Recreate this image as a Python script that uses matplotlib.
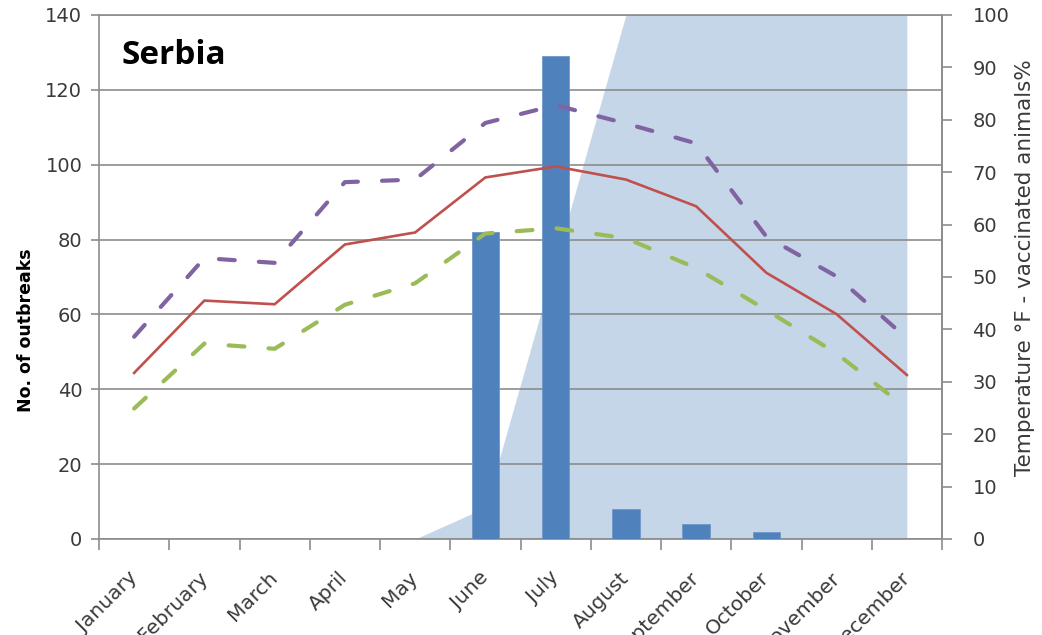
import matplotlib
matplotlib.use("Agg")
import matplotlib.pyplot as plt
import numpy as np

months = ['January', 'February', 'March', 'April', 'May', 'June', 'July',
          'August', 'September', 'October', 'November', 'December']
outbreaks = [0, 0, 0, 0, 0, 82, 129, 8, 4, 2, 0, 0]
temp_avg = [31.7, 45.5, 44.8, 56.2, 58.5, 69.0, 71.1, 68.6, 63.5, 50.8, 42.9, 31.3]
temp_max = [38.6, 53.6, 52.7, 68.1, 68.6, 79.4, 82.8, 79.3, 75.5, 57.7, 50.1, 38.3]
temp_min = [24.9, 37.3, 36.3, 44.7, 48.8, 58.3, 59.3, 57.4, 51.7, 43.7, 35.4, 24.9]
vaccinated = [0, 0, 0, 0, 0, 6, 53, 100, 100, 100, 100, 100]

BLUE = '#4F81BD'
RED = '#C0504D'
PURPLE = '#8064A2'
GREEN = '#9BBB59'
GRID = '#8c8c8c'
TXT = '#3a3a3a'

x = np.arange(len(months))

fig = plt.figure(figsize=(10.42, 6.35), dpi=100)
ax = fig.add_axes([99 / 1042, 1 - 539 / 635, 843 / 1042, 524 / 635])
ax_area = ax.twinx()
ax_line = ax.twinx()

# layering: vaccination area at the back, bars in the middle, temperature lines on top
ax_area.set_zorder(0)
ax.set_zorder(1)
ax_line.set_zorder(2)
ax.patch.set_visible(False)
ax_line.patch.set_visible(False)

ax_area.fill_between(x, vaccinated, 0, color=BLUE, alpha=0.32, lw=0)

ax.bar(x, outbreaks, width=0.39, color=BLUE, edgecolor='#6f97c8', linewidth=0.6, zorder=3)

dash = (0, (3.8, 5.8))
ax_line.plot(x, temp_max, color=PURPLE, lw=3, linestyle=dash, dash_capstyle='round')
ax_line.plot(x, temp_min, color=GREEN, lw=3, linestyle=dash, dash_capstyle='round')
ax_line.plot(x, temp_avg, color=RED, lw=1.9, solid_joinstyle='miter')

# left axis: outbreaks
ax.set_xlim(-0.5, 11.5)
ax.set_ylim(0, 140)
ax.set_yticks(np.arange(0, 141, 20))
ax.yaxis.grid(True, color=GRID, lw=1.2)
ax.tick_params(axis='y', length=6, width=1.2, color=GRID, labelsize=14, labelcolor=TXT, pad=6)
ax.set_ylabel('No. of outbreaks', fontsize=12.5, fontweight='bold', color='black')
ax.yaxis.set_label_coords(-0.076, 0.399)

ax.set_xticks(np.arange(-0.5, 12, 1))
ax.set_xticklabels([])
ax.tick_params(axis='x', which='major', length=8, width=1.2, color=GRID)
ax.set_xticks(x, minor=True)
ax.set_xticklabels(months, minor=True, rotation=45, ha='right', va='center',
                   rotation_mode='anchor')
ax.tick_params(axis='x', which='minor', length=0, labelsize=14.5, labelcolor=TXT, pad=26)

for s in ax.spines.values():
    s.set_color(GRID)
    s.set_linewidth(1.2)

# right axis: temperature / vaccinated share
for a in (ax_area, ax_line):
    a.set_ylim(0, 100)
    for s in a.spines.values():
        s.set_visible(False)
ax_area.spines['right'].set_visible(True)
ax_area.spines['right'].set_color(GRID)
ax_area.spines['right'].set_linewidth(1.2)
ax_area.set_yticks(np.arange(0, 101, 10))
ax_area.tick_params(axis='y', length=7, width=1.2, color=GRID, labelsize=14, labelcolor=TXT, pad=15)
ax_area.set_ylabel('Temperature °F - vaccinated animals%', fontsize=15.5, color=TXT, rotation=90)
ax_area.yaxis.set_label_coords(1.087, 0.517)
ax_line.set_yticks([])

ax.text(0.027, 0.955, 'Serbia', transform=ax.transAxes, fontsize=24, fontweight='bold',
        family='Open Sans', color='black', va='top', ha='left', zorder=10)

fig.savefig('out.png', dpi=100)
